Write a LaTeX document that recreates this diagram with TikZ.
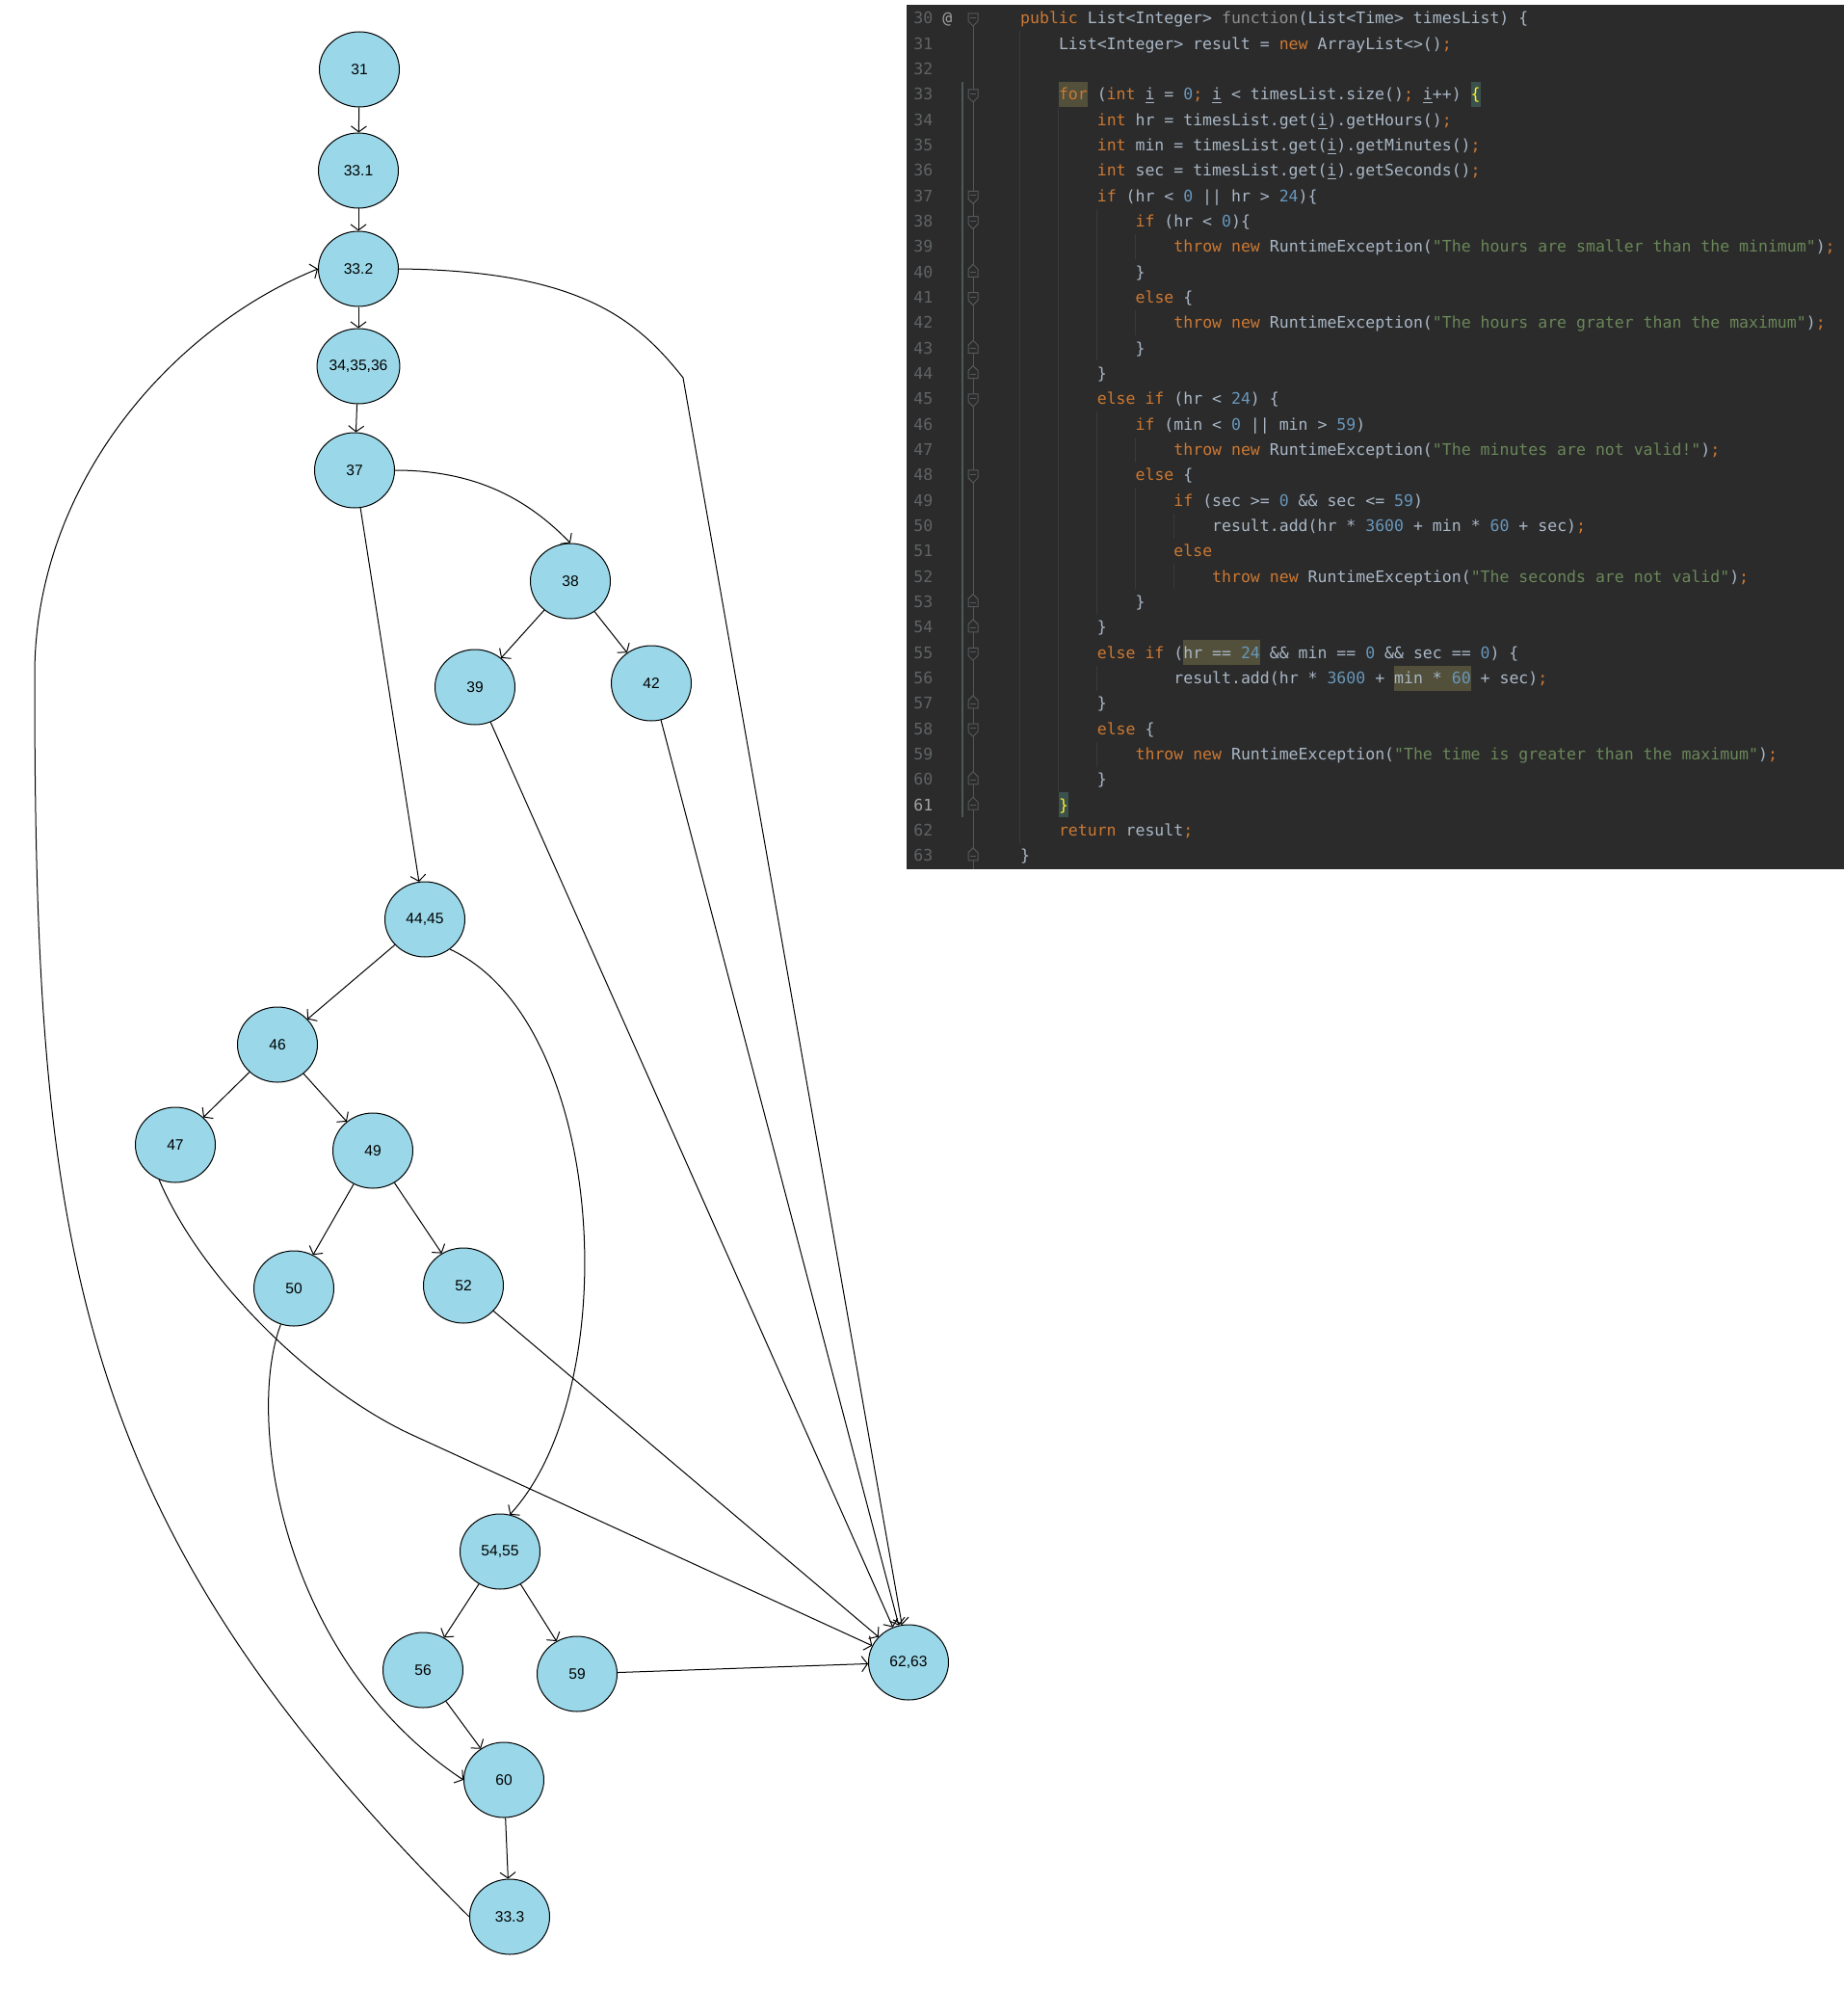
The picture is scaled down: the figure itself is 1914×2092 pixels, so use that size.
\documentclass[tikz,border=0pt]{standalone}
\usepackage{fontspec}
\setmainfont{Liberation Sans}
\newfontfamily\codefont[Ligatures=TeXOff]{DejaVu Sans Mono}
\usepackage{tikz}
\usetikzlibrary{shapes.geometric, arrows.meta}
\usepackage{xcolor}

\definecolor{nodeblue}{HTML}{9AD8E9}
\definecolor{codebg}{HTML}{2B2B2B}
\definecolor{codetext}{HTML}{A9B7C6}
\definecolor{codekw}{HTML}{CC7832}
\definecolor{codenum}{HTML}{6897BB}
\definecolor{codestr}{HTML}{6A8759}
\definecolor{codefn}{HTML}{8E8E8E}
\definecolor{lineno}{HTML}{606366}
\definecolor{linecur}{HTML}{A4A3A3}
\definecolor{hlolive}{HTML}{52503A}
\definecolor{hlbrace}{HTML}{3B514D}
\definecolor{bracey}{HTML}{FFEF28}
\definecolor{guidegray}{HTML}{3A3A3A}
\definecolor{foldgray}{HTML}{55585A}
\definecolor{scopebar}{HTML}{4D5B58}

\newcommand{\ckw}[1]{\textcolor{codekw}{#1}}
\newcommand{\cnum}[1]{\textcolor{codenum}{#1}}
\newcommand{\cstr}[1]{\textcolor{codestr}{#1}}
\newcommand{\csem}{\textcolor{codekw}{;}}
\newcommand{\cvar}{\underline{i}}
\newcommand{\chl}[2]{{\setlength{\fboxsep}{0pt}\colorbox{#1}{\rule[-3.5pt]{0pt}{13pt}#2}}}

\begin{document}
\begin{tikzpicture}[x=0.5pt, y=-0.5pt,
  blk/.style={draw, ellipse, fill=nodeblue, line width=0.5pt, minimum width=41.5pt, minimum height=39pt, inner sep=0pt, font=\fontsize{7.8}{9}\selectfont},
  arr/.style={-{Straight Barb[length=3pt,width=8pt]}, line width=0.5pt},
  codeln/.style={anchor=base west, inner sep=0pt, text=codetext, font=\codefont\fontsize{8.26}{10}\selectfont},
  lnum/.style={codeln, text=lineno},
  guide/.style={draw=guidegray, line width=0.5pt},
  foldmk/.style={draw=foldgray, line width=0.5pt}]
  \useasboundingbox (0,0) rectangle (1914,2092);
  \fill[white] (0,0) rectangle (1914,2092);

  \fill[codebg] (941,5) rectangle (1914,902);
  \draw[foldmk] (1010,14) -- (1010,902);
  \draw[scopebar, line width=1pt] (999,{6+3*26.33}) -- (999,{32+31*26.33});
  \draw[guide] (1058,{6+1*26.33}) -- (1058,{32+32*26.33});
  \draw[guide] (1098,{6+4*26.33}) -- (1098,{32+30*26.33});
  \draw[guide] (1138,{6+8*26.33}) -- (1138,{32+13*26.33});
  \draw[guide] (1138,{6+16*26.33}) -- (1138,{32+23*26.33});
  \draw[guide] (1138,{6+26*26.33}) -- (1138,{32+26*26.33});
  \draw[guide] (1138,{6+29*26.33}) -- (1138,{32+29*26.33});
  \draw[guide] (1178,{6+9*26.33}) -- (1178,{32+9*26.33});
  \draw[guide] (1178,{6+12*26.33}) -- (1178,{32+12*26.33});
  \draw[guide] (1178,{6+17*26.33}) -- (1178,{32+17*26.33});
  \draw[guide] (1178,{6+19*26.33}) -- (1178,{32+22*26.33});
  \draw[guide] (1218,{6+20*26.33}) -- (1218,{32+20*26.33});
  \draw[guide] (1218,{6+22*26.33}) -- (1218,{32+22*26.33});

  \foreach \n in {30,33,37,38,41,45,48,55,58} {
    \pgfmathsetmacro{\fy}{20+(\n-30)*26.33}
    \filldraw[foldmk, fill=codebg] (1005,{\fy-6}) -- (1015,{\fy-6}) -- (1015,{\fy+2}) -- (1010,{\fy+7}) -- (1005,{\fy+2}) -- cycle;
    \draw[foldmk] (1007,{\fy-1.5}) -- (1013,{\fy-1.5});
  }
  \foreach \n in {40,43,44,53,54,57,60,61,63} {
    \pgfmathsetmacro{\fy}{18+(\n-30)*26.33}
    \filldraw[foldmk, fill=codebg] (1005,{\fy+6}) -- (1015,{\fy+6}) -- (1015,{\fy-2}) -- (1010,{\fy-7}) -- (1005,{\fy-2}) -- cycle;
    \draw[foldmk] (1007,{\fy+1.5}) -- (1013,{\fy+1.5});
  }

  \foreach \n in {30,...,60,62,63}
    \node[lnum] (G\n) at (948,{25+(\n-30)*26.33}) {\n};
  \node[lnum, text=linecur] (G61) at (948,{25+31*26.33}) {61};
  \node[lnum, text=linecur] (AT) at (978,25) {@};

  \node[codeln] (L30) at ({1019+4*9.95},25) {\ckw{public} List<Integer> \textcolor{codefn}{function}(List<Time> timesList) \{};
  \node[codeln] (L31) at ({1019+8*9.95},{25+1*26.33}) {List<Integer> result = \ckw{new} ArrayList<>()\csem};
  \node[codeln] (L33) at ({1019+8*9.95},{25+3*26.33}) {\chl{hlolive}{\ckw{for}} (\ckw{int} \cvar{} = \cnum{0}\csem{} \cvar{} < timesList.size()\csem{} \cvar++) \chl{hlbrace}{\textcolor{bracey}{\{}}};
  \node[codeln] (L34) at ({1019+12*9.95},{25+4*26.33}) {\ckw{int} hr = timesList.get(\cvar).getHours()\csem};
  \node[codeln] (L35) at ({1019+12*9.95},{25+5*26.33}) {\ckw{int} min = timesList.get(\cvar).getMinutes()\csem};
  \node[codeln] (L36) at ({1019+12*9.95},{25+6*26.33}) {\ckw{int} sec = timesList.get(\cvar).getSeconds()\csem};
  \node[codeln] (L37) at ({1019+12*9.95},{25+7*26.33}) {\ckw{if} (hr < \cnum{0} || hr > \cnum{24})\{};
  \node[codeln] (L38) at ({1019+16*9.95},{25+8*26.33}) {\ckw{if} (hr < \cnum{0})\{};
  \node[codeln] (L39) at ({1019+20*9.95},{25+9*26.33}) {\ckw{throw} \ckw{new} RuntimeException(\cstr{"The hours are smaller than the minimum"})\csem};
  \node[codeln] (L40) at ({1019+16*9.95},{25+10*26.33}) {\}};
  \node[codeln] (L41) at ({1019+16*9.95},{25+11*26.33}) {\ckw{else} \{};
  \node[codeln] (L42) at ({1019+20*9.95},{25+12*26.33}) {\ckw{throw} \ckw{new} RuntimeException(\cstr{"The hours are grater than the maximum"})\csem};
  \node[codeln] (L43) at ({1019+16*9.95},{25+13*26.33}) {\}};
  \node[codeln] (L44) at ({1019+12*9.95},{25+14*26.33}) {\}};
  \node[codeln] (L45) at ({1019+12*9.95},{25+15*26.33}) {\ckw{else} \ckw{if} (hr < \cnum{24}) \{};
  \node[codeln] (L46) at ({1019+16*9.95},{25+16*26.33}) {\ckw{if} (min < \cnum{0} || min > \cnum{59})};
  \node[codeln] (L47) at ({1019+20*9.95},{25+17*26.33}) {\ckw{throw} \ckw{new} RuntimeException(\cstr{"The minutes are not valid!"})\csem};
  \node[codeln] (L48) at ({1019+16*9.95},{25+18*26.33}) {\ckw{else} \{};
  \node[codeln] (L49) at ({1019+20*9.95},{25+19*26.33}) {\ckw{if} (sec >= \cnum{0} \&\& sec <= \cnum{59})};
  \node[codeln] (L50) at ({1019+24*9.95},{25+20*26.33}) {result.add(hr * \cnum{3600} + min * \cnum{60} + sec)\csem};
  \node[codeln] (L51) at ({1019+20*9.95},{25+21*26.33}) {\ckw{else}};
  \node[codeln] (L52) at ({1019+24*9.95},{25+22*26.33}) {\ckw{throw} \ckw{new} RuntimeException(\cstr{"The seconds are not valid"})\csem};
  \node[codeln] (L53) at ({1019+16*9.95},{25+23*26.33}) {\}};
  \node[codeln] (L54) at ({1019+12*9.95},{25+24*26.33}) {\}};
  \node[codeln] (L55) at ({1019+12*9.95},{25+25*26.33}) {\ckw{else} \ckw{if} (\chl{hlolive}{hr == \cnum{24}} \&\& min == \cnum{0} \&\& sec == \cnum{0}) \{};
  \node[codeln] (L56) at ({1019+20*9.95},{25+26*26.33}) {result.add(hr * \cnum{3600} + \chl{hlolive}{min * \cnum{60}} + sec)\csem};
  \node[codeln] (L57) at ({1019+12*9.95},{25+27*26.33}) {\}};
  \node[codeln] (L58) at ({1019+12*9.95},{25+28*26.33}) {\ckw{else} \{};
  \node[codeln] (L59) at ({1019+16*9.95},{25+29*26.33}) {\ckw{throw} \ckw{new} RuntimeException(\cstr{"The time is greater than the maximum"})\csem};
  \node[codeln] (L60) at ({1019+12*9.95},{25+30*26.33}) {\}};
  \node[codeln] (L61) at ({1019+8*9.95},{25+31*26.33}) {\chl{hlbrace}{\textcolor{bracey}{\}}}};
  \node[codeln] (L62) at ({1019+8*9.95},{25+32*26.33}) {\ckw{return} result\csem};
  \node[codeln] (L63) at ({1019+4*9.95},{25+33*26.33}) {\}};

  \node[blk] (N31)  at (373,72)   {31};
  \node[blk] (N331) at (372,177)  {33.1};
  \node[blk] (N332) at (372,279)  {33.2};
  \node[blk] (N34)  at (372,380)  {34,35,36};
  \node[blk] (N37)  at (368,488)  {37};
  \node[blk] (N38)  at (592,603)  {38};
  \node[blk] (N39)  at (493,713)  {39};
  \node[blk] (N42)  at (676,709)  {42};
  \node[blk] (N44)  at (441,954)  {44,45};
  \node[blk] (N46)  at (288,1084) {46};
  \node[blk] (N47)  at (182,1188) {47};
  \node[blk] (N49)  at (387,1194) {49};
  \node[blk] (N50)  at (305,1337) {50};
  \node[blk] (N52)  at (481,1334) {52};
  \node[blk] (N54)  at (519,1610) {54,55};
  \node[blk] (N56)  at (439,1733) {56};
  \node[blk] (N59)  at (599,1737) {59};
  \node[blk] (N60)  at (523,1847) {60};
  \node[blk] (N333) at (529,1989) {33.3};
  \node[blk] (N62)  at (943,1725) {62,63};

  \coordinate (K1) at (709,392);
  \coordinate (K2) at (430,1490);
  \coordinate (K3) at (36,700);

  \draw[arr] (N31) -- (N331);
  \draw[arr] (N331) -- (N332);
  \draw[arr] (N332) -- (N34);
  \draw[arr] (N34) -- (N37);
  \draw[arr] (N332.east) .. controls (600,281) and (660,330) .. (K1) -- (N62);
  \draw[arr] (N37.east) .. controls (490,488) and (545,515) .. (N38.north);
  \draw[arr] (N37) -- (N44);
  \draw[arr] (N38) -- (N39);
  \draw[arr] (N38) -- (N42);
  \draw[arr] (N39) -- (N62);
  \draw[arr] (N42) -- (N62);
  \draw[arr] (N44) -- (N46);
  \draw[arr] (N44.-50) .. controls (630,1060) and (650,1440) .. (N54.75);
  \draw[arr] (N46) -- (N47);
  \draw[arr] (N46) -- (N49);
  \draw[arr] (N47.-115) .. controls (210,1330) and (330,1445) .. (K2) -- (N62);
  \draw[arr] (N49) -- (N50);
  \draw[arr] (N49) -- (N52);
  \draw[arr] (N50.-110) .. controls (255,1470) and (290,1720) .. (N60.west);
  \draw[arr] (N52) -- (N62);
  \draw[arr] (N54) -- (N56);
  \draw[arr] (N54) -- (N59);
  \draw[arr] (N56) -- (N60);
  \draw[arr] (N59) -- (N62);
  \draw[arr] (N60) -- (N333);
  \draw[arr] (N333.west) .. controls (75,1580) and (36,1300) .. (K3) .. controls (36,500) and (181,339) .. (N332.west);
\end{tikzpicture}
\end{document}
